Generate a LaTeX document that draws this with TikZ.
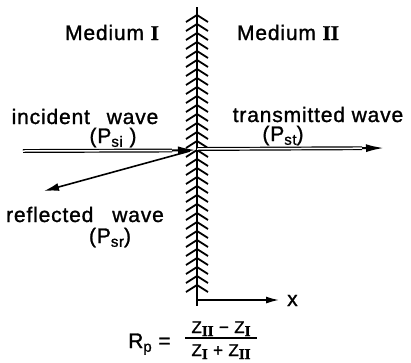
\documentclass[tikz,border=0pt]{standalone}
\usepackage{fontspec}
\setmainfont{Liberation Sans}[LetterSpace=4,FakeBold=1.2]
\newfontfamily\romfont{Liberation Serif}[FakeBold=1.2]
\usetikzlibrary{arrows.meta}
\newcommand\sbs[1]{\raisebox{-0.18em}{\fontsize{15}{15}\selectfont #1}}
\newcommand\rmn[1]{{\romfont\bfseries #1}}
\begin{document}
\begin{tikzpicture}[x=1pt,y=-1pt,
  lbl/.style={anchor=base,inner sep=0pt,font=\fontsize{21}{25}\selectfont},
  fr/.style={anchor=base,inner sep=0pt,font=\fontsize{17}{20}\selectfont},
  wall/.style={line width=2.8pt},
  chev/.style={line width=1.8pt},
  wave/.style={double,double distance=1.5pt,line width=1.2pt},
  tip/.style={line width=2pt,-{Latex[length=18pt,width=8pt]}},
  axis/.style={line width=1.5pt}]
\useasboundingbox (0,0) rectangle (411,362);

% interface
\coordinate (top) at (197,7);
\coordinate (bot) at (197,306);
\coordinate (orig) at (197,300);
\coordinate (xend) at (279,300);
\draw[wall] (top) -- (bot);
\foreach \k in {0,...,30} {
  \pgfmathsetmacro\yy{15+9*\k}
  \draw[chev] (186,\yy+7) -- (197,\yy) -- (208,\yy+7);
}
\draw[axis,-{Latex[length=13pt,width=7pt]}] (orig) -- (xend);
\node[lbl,anchor=base west] (xl) at (287,306) {x};

% waves
\coordinate (incstart) at (23,151);
\coordinate (incpre) at (172,150.5);
\coordinate (hit) at (196,150);
\coordinate (trstart) at (197,149);
\coordinate (trpre) at (362,148.2);
\coordinate (trend) at (384,148);
\coordinate (refend) at (44,191);
\coordinate (refstart) at (190,151);
\draw[wave] (incstart) -- (incpre);
\draw[tip] (incpre) -- (hit);
\draw[wave] (trstart) -- (trpre);
\draw[tip] (trpre) -- (trend);
\draw[line width=1.6pt,-{Latex[length=15pt,width=8pt]}] (refstart) -- (refend);

% labels
\node[lbl] (m1) at (112,40) {Medium \rmn{I}};
\node[lbl] (m2) at (288,40) {Medium \rmn{II}};
\node[lbl] (inc) at (85,124) {incident\hspace{0.8em}wave};
\node[lbl] (psi) at (113,143) {(P\sbs{si} )};
\node[lbl] (tr) at (318,122) {transmitted wave};
\node[lbl] (pst) at (283,141) {(P\sbs{st})};
\node[lbl] (ref) at (85,222) {reflected\hspace{0.9em}wave};
\node[lbl] (psr) at (110,243) {(P\sbs{sr})};

% formula
\node[lbl,anchor=base west] (rp) at (128,348) {R\sbs{p} =};
\node[fr] (num) at (221,333) {Z\sbs{\rmn{II}} − Z\sbs{\rmn{I}}};
\node[fr] (den) at (221,356) {Z\sbs{\rmn{I}} + Z\sbs{\rmn{II}}};
\draw[line width=1.1pt] (185,338) -- (257,338);
\end{tikzpicture}
\end{document}
